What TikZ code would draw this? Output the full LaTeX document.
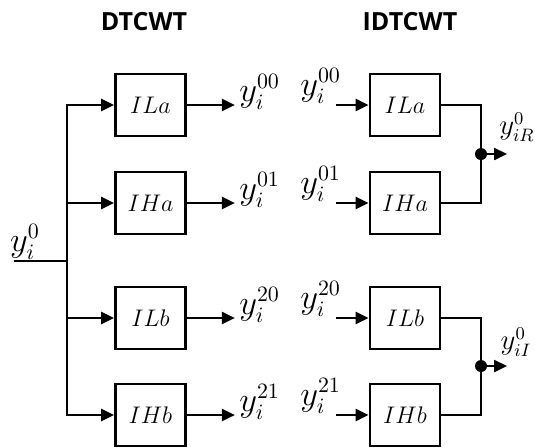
\documentclass[tikz,border=0pt]{standalone}
\usepackage{fontspec}
\setsansfont{Open Sans}
\usepackage{tikz}
\usetikzlibrary{arrows.meta,positioning,calc}
\tikzset{
  filt/.style={rectangle,draw=black,line width=1.4pt,minimum width=35pt,minimum height=31pt,
    inner sep=0pt,font=\large},
  sig/.style={line width=1.2pt},
  sigarrow/.style={-{Triangle[length=6.5pt,width=6pt]},line width=1.2pt},
  lbl/.style={font=\fontsize{16}{18}\selectfont,inner sep=0pt},
  outlbl/.style={font=\fontsize{13.5}{15}\selectfont,inner sep=0pt},
  title/.style={font=\sffamily\bfseries\fontsize{12.5}{14}\selectfont},
}

\begin{document}
\begin{tikzpicture}[x=0.5pt,y=-0.5pt]
  \useasboundingbox (0,0) rectangle (535,447);
  % titles
  \node[title] (tdt) at (144,22) {DTCWT};
  \node[title] (tidt) at (410,22) {IDTCWT};
  % analysis filters
  \node[filt] (la1) at (150.5,105) {$ILa$};
  \node[filt] (ha1) at (150.5,203) {$IHa$};
  \node[filt] (lb1) at (150.5,318) {$ILb$};
  \node[filt] (hb1) at (150.5,415) {$IHb$};
  % synthesis filters
  \node[filt] (la2) at (405,105) {$ILa$};
  \node[filt] (ha2) at (405,203) {$IHa$};
  \node[filt] (lb2) at (405,318) {$ILb$};
  \node[filt] (hb2) at (405,415) {$IHb$};
  % input and bus
  \node[lbl] (yin) at (25,242) {$y_i^0$};
  \coordinate (src) at (14,261);
  \coordinate (bus) at (67,261);
  \draw[sig] (src) -- (bus);
  \foreach \f in {la1,ha1,lb1,hb1}
    \draw[sigarrow] (bus) |- (\f);
  % outputs of the analysis bank
  \foreach \f/\o in {la1/00,ha1/01,lb1/20,hb1/21}{
    \coordinate (out\o) at ($(\f.east)+(48,0)$);
    \draw[sigarrow] (\f) -- (out\o);
    \node[lbl,anchor=west] (a\o) at ($(out\o)+(4,-13)$) {$y_i^{\o}$};
  }
  % inputs of the synthesis bank
  \foreach \f/\o in {la2/00,ha2/01,lb2/20,hb2/21}{
    \coordinate (in\o) at ($(\f.west)+(-33,0)$);
    \draw[sigarrow] (in\o) -- (\f);
    \node[lbl] (s\o) at ($(in\o)+(-15,-19)$) {$y_i^{\o}$};
  }
  % real part
  \coordinate (jR) at (481,154);
  \coordinate (oR) at (507,154);
  \draw[sig] (la2) -| (jR) |- (ha2);
  \fill (jR) circle (6);
  \draw[sigarrow] (jR) -- (oR);
  \node[outlbl] (yR) at (517,127) {$y_{iR}^0$};
  % imaginary part
  \coordinate (jI) at (481,366);
  \coordinate (oI) at (507,366);
  \draw[sig] (lb2) -| (jI) |- (hb2);
  \fill (jI) circle (6);
  \draw[sigarrow] (jI) -- (oI);
  \node[outlbl] (yI) at (516,342) {$y_{iI}^0$};
\end{tikzpicture}
\end{document}
